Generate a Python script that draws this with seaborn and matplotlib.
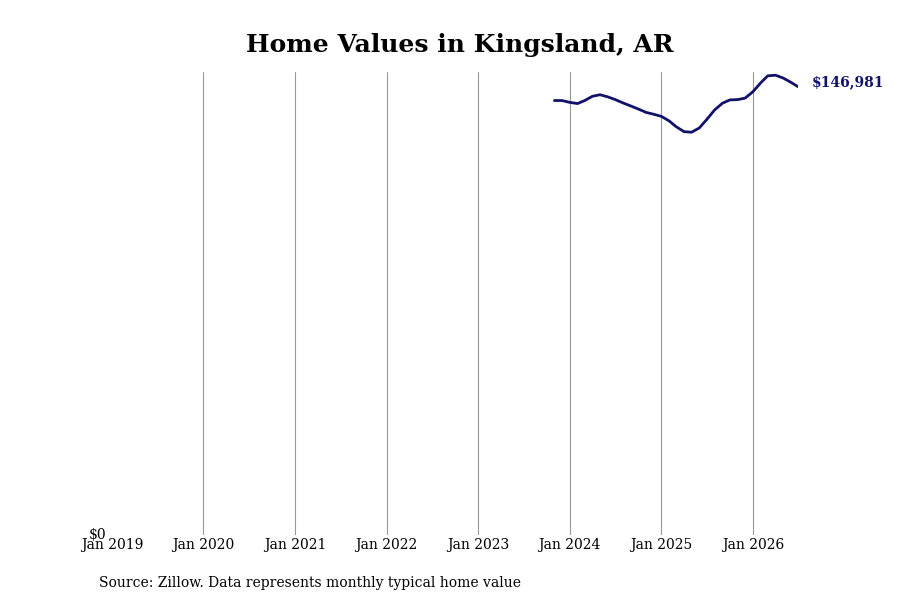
import matplotlib
matplotlib.use("Agg")
import matplotlib.pyplot as plt
import pandas as pd
import seaborn as sns

# monthly typical home value, Nov 2023 - Jul 2026
months = pd.date_range("2023-11-01", "2026-07-01", freq="MS")
values = [
    142500, 142500, 141900, 141500, 142500, 143900, 144400, 143700,
    142800, 141700, 140700, 139700, 138600, 138000, 137300, 135800,
    133900, 132300, 132100, 133500, 136300, 139400, 141600, 142700,
    142800, 143300, 145400, 148300, 150600, 150800, 149900, 148500,
    146981,
]
tick_years = list(range(2019, 2027))
tick_labels = [f"Jan {y}" for y in tick_years]

df = pd.DataFrame({"date": months, "value": values})

sns.set_theme(style="white")
plt.rcParams["font.family"] = ["DejaVu Serif"]
plt.rcParams["text.color"] = "black"
plt.rcParams["xtick.color"] = "black"
plt.rcParams["ytick.color"] = "black"

line_color = "#12126a"

fig = plt.figure(figsize=(9, 6), dpi=100)
ax = fig.add_axes([0.1244, 0.1083, 0.7626, 0.7717])

sns.lineplot(data=df, x="date", y="value", color=line_color, linewidth=2, ax=ax)

ticks = [pd.Timestamp(f"{y}-01-01") for y in tick_years]
ax.set_xticks(ticks)
ax.set_xticklabels(tick_labels, fontsize=10)
ax.set_xlim(ticks[0], months[-1])
ax.set_ylim(0, max(values) * 1.007)
ax.set_yticks([0])
ax.set_yticklabels(["$0"], fontsize=10)
ax.tick_params(axis="both", length=0, pad=2)
ax.tick_params(axis="y", pad=4)
for lbl in ax.get_yticklabels():
    lbl.set_verticalalignment("center")
    lbl.set_y(0)

ax.xaxis.grid(True, color="#999999", linewidth=0.8)
ax.get_xgridlines()[0].set_visible(False)
for s in ax.spines.values():
    s.set_visible(False)
ax.set_xlabel("")
ax.set_ylabel("")

# end label
ax.annotate(f"${values[-1]:,}", xy=(months[-1], values[-1]),
            xytext=(10, 3), textcoords="offset points",
            color=line_color, fontsize=10, fontweight="bold",
            va="center", ha="left")

fig.suptitle("Home Values in Kingsland, AR", x=0.511, y=0.945,
             fontsize=18, fontweight="bold", color="black")
fig.text(0.11, 0.022, "Source: Zillow. Data represents monthly typical home value",
         fontsize=10, color="black")

fig.savefig("out.png", dpi=100)
